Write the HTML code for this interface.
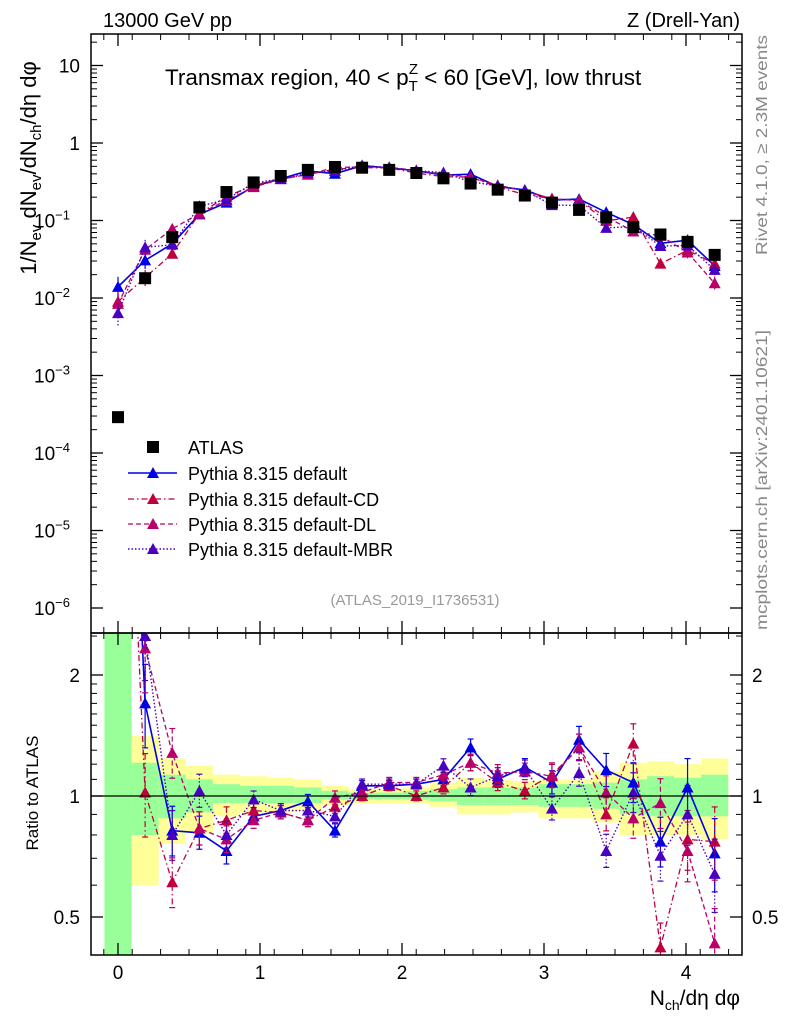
<!DOCTYPE html>
<html><head><meta charset="utf-8"><style>
body{margin:0;background:#fff}
svg{display:block;font-family:"Liberation Sans",sans-serif}
</style></head><body>
<svg id="chart" width="786" height="1024" viewBox="0 0 786 1024">
<g id="bands"></g>
<g id="marks"></g>
<g id="axes"></g>
<text x="103" y="27" font-size="20">13000 GeV pp</text>
<text x="740" y="27" font-size="20" text-anchor="end">Z (Drell-Yan)</text>
<text x="165" y="85" font-size="22.5">Transmax region, 40 &lt; p<tspan font-size="15" dy="6">T</tspan><tspan font-size="15" dx="-9" dy="-17">Z</tspan><tspan dy="11"> &lt; 60 [GeV], low thrust</tspan></text>
<text x="415" y="605" font-size="15" fill="#999" text-anchor="middle">(ATLAS_2019_I1736531)</text>
<text transform="translate(767,255) rotate(-90)" font-size="16" fill="#888" textLength="220" lengthAdjust="spacingAndGlyphs">Rivet 4.1.0, ≥ 2.3M events</text>
<text transform="translate(767,630) rotate(-90)" font-size="16" fill="#888" textLength="300" lengthAdjust="spacingAndGlyphs">mcplots.cern.ch [arXiv:2401.10621]</text>
<text transform="translate(36,168) rotate(-90)" font-size="22" text-anchor="middle">1/N<tspan font-size="15" dy="5">ev</tspan><tspan dy="-5"> dN</tspan><tspan font-size="15" dy="5">ev</tspan><tspan dy="-5">/dN</tspan><tspan font-size="15" dy="5">ch</tspan><tspan dy="-5">/dη dφ</tspan></text>
<text transform="translate(38,793) rotate(-90)" font-size="17" text-anchor="middle">Ratio to ATLAS</text>
<text x="740" y="1005" font-size="21" text-anchor="end">N<tspan font-size="14" dy="5">ch</tspan><tspan dy="-5">/dη dφ</tspan></text>
<g id="legend"></g>
</svg>
<script>
const xs=[0,0.191,0.382,0.573,0.764,0.955,1.146,1.337,1.528,1.719,1.91,2.101,2.292,2.483,2.674,2.865,3.056,3.247,3.438,3.629,3.82,4.011,4.202];
const atlas=[0.00029,0.018,0.061,0.148,0.233,0.31,0.375,0.45,0.49,0.48,0.45,0.41,0.35,0.30,0.25,0.21,0.17,0.137,0.11,0.082,0.066,0.053,0.036];
const ratioDefault=[48,1.70,0.82,0.81,0.73,0.89,0.92,0.97,0.82,1.06,1.06,1.07,1.10,1.32,1.10,1.18,1.08,1.38,1.16,1.08,0.77,1.05,0.72];
const ratioCD=[31,1.02,0.61,0.83,0.87,0.92,0.91,0.87,0.94,1.0,1.06,1.0,1.05,1.21,1.08,1.03,1.13,1.32,0.90,1.35,0.42,0.78,0.77];
const ratioDL=[29,2.33,1.28,0.83,0.78,0.87,0.91,0.87,0.99,1.02,1.08,1.08,1.13,1.21,1.14,1.15,1.12,1.32,1.02,0.88,0.96,0.73,0.43];
const ratioMBR=[22,2.5,0.80,1.03,0.80,0.98,0.92,0.92,0.89,1.07,1.07,1.07,1.19,1.05,1.12,1.17,0.93,1.14,0.73,1.02,0.71,0.90,0.64];
const errFrac=[0.35,0.25,0.15,0.1,0.08,0.05,0.04,0.04,0.04,0.03,0.03,0.03,0.04,0.05,0.05,0.05,0.07,0.08,0.1,0.12,0.15,0.18,0.22];
const bandYellowUp=[3,1.41,1.24,1.19,1.13,1.12,1.11,1.10,1.06,1.04,1.04,1.05,1.08,1.11,1.10,1.09,1.10,1.10,1.15,1.21,1.22,1.20,1.24];
const bandYellowDn=[0.3,0.60,0.76,0.81,0.89,0.91,0.91,0.92,0.95,0.96,0.96,0.96,0.94,0.90,0.90,0.91,0.88,0.88,0.86,0.80,0.80,0.80,0.78];
const bandGreenUp=[3,1.21,1.13,1.10,1.07,1.06,1.06,1.05,1.03,1.02,1.02,1.03,1.04,1.05,1.05,1.05,1.07,1.07,1.08,1.10,1.12,1.11,1.13];
const bandGreenDn=[0.3,0.80,0.88,0.91,0.96,0.96,0.96,0.96,0.98,0.98,0.98,0.98,0.97,0.95,0.95,0.95,0.94,0.94,0.93,0.90,0.89,0.89,0.89];
const mainTicks=[10,1,0.1,0.01,0.001,0.0001,0.00001,0.000001];
const mainTickLabels=["10","1","10","10","10","10","10","10"];
const mainTickExp=["","","−1","−2","−3","−4","−5","−6"];
const ratioTicks=[2,1,0.5];
const xTicks=[0,1,2,3,4];

const NS="http://www.w3.org/2000/svg";
const L=91,R=742,T=34,MB=633,B=955;
const X=v=>118+v*142;
const Y=v=>143-77.5*Math.log10(v);
const RY=r=>796-121*Math.log2(r);
function el(tag,at,parent){const e=document.createElementNS(NS,tag);for(const k in at)e.setAttribute(k,at[k]);parent.appendChild(e);return e;}
const bands=document.getElementById('bands'),marks=document.getElementById('marks'),axes=document.getElementById('axes'),leg=document.getElementById('legend');
const clipR=el('clipPath',{id:'cr'},document.getElementById('chart'));el('rect',{x:L,y:MB,width:R-L,height:B-MB},clipR);
const clipM=el('clipPath',{id:'cm'},document.getElementById('chart'));el('rect',{x:L,y:T,width:R-L,height:MB-T},clipM);
bands.setAttribute('clip-path','url(#cr)');
xs.forEach((x,i)=>{
  const x0=X(x-0.0955),x1=X(x+0.0955);
  let r=el('rect',{x:x0,y:RY(bandYellowUp[i]),width:x1-x0,height:RY(bandYellowDn[i])-RY(bandYellowUp[i]),fill:'#ffff99'},bands);
  
  
  r=el('rect',{x:x0,y:RY(bandGreenUp[i]),width:x1-x0,height:RY(bandGreenDn[i])-RY(bandGreenUp[i]),fill:'#99ff99'},bands);
  
  
});
el('line',{x1:L,x2:R,y1:796,y2:796,stroke:'#000','stroke-width':1.2},axes);
const series=[
 {name:'default',ratio:ratioDefault,color:'#0000e6',dash:'',w:1.6},
 {name:'default-CD',ratio:ratioCD,color:'#c0003c',dash:'6,3,1.5,3',w:1.3},
 {name:'default-DL',ratio:ratioDL,color:'#b8006a',dash:'5,3',w:1.3},
 {name:'default-MBR',ratio:ratioMBR,color:'#4a00c0',dash:'1.5,2',w:1.4}
];
function tri(g,x,y,c){const p=el('polygon',{points:`${x-6},${y+5} ${x+6},${y+5} ${x},${y-6}`,fill:c},g);return p;}
series.forEach(s=>{
  const gm=el('g',{'clip-path':'url(#cm)'},marks);
  
  
  const gr=el('g',{'clip-path':'url(#cr)'},marks);
  
  
  const vals=xs.map((x,i)=>atlas[i]*s.ratio[i]);
  el('polyline',{points:xs.map((x,i)=>X(x)+','+Y(vals[i])).join(' '),fill:'none',stroke:s.color,'stroke-width':s.w,'stroke-dasharray':s.dash},gm);
  el('polyline',{points:xs.map((x,i)=>X(x)+','+RY(s.ratio[i])).join(' '),fill:'none',stroke:s.color,'stroke-width':s.w,'stroke-dasharray':s.dash},gr);
  xs.forEach((x,i)=>{
    const e=errFrac[i];
    const px=X(x);
    el('line',{x1:px,x2:px,y1:Y(vals[i]*(1+e)),y2:Y(vals[i]*(1-e*0.9)),stroke:s.color,'stroke-width':1.2,'stroke-dasharray':s.dash},gm);
    const t=tri(gm,px,Y(vals[i]),s.color);
    
    
    const ry=s.ratio[i];
    el('line',{x1:px,x2:px,y1:RY(ry*(1+e)),y2:RY(ry*(1-e*0.9)),stroke:s.color,'stroke-width':1.2,'stroke-dasharray':s.dash},gr);
    el('line',{x1:px-3,x2:px+3,y1:RY(ry*(1+e)),y2:RY(ry*(1+e)),stroke:s.color,'stroke-width':1.2},gr);
    el('line',{x1:px-3,x2:px+3,y1:RY(ry*(1-e*0.9)),y2:RY(ry*(1-e*0.9)),stroke:s.color,'stroke-width':1.2},gr);
    const t2=tri(gr,px,RY(ry),s.color);
    
    
  });
});
xs.forEach((x,i)=>{
  const r=el('rect',{x:X(x)-6,y:Y(atlas[i])-6,width:12,height:12,fill:'#000'},marks);
  
  
});
el('rect',{x:L,y:T,width:R-L,height:MB-T,fill:'none',stroke:'#000','stroke-width':1.5},axes);
el('rect',{x:L,y:MB,width:R-L,height:B-MB,fill:'none',stroke:'#000','stroke-width':1.5},axes);
for(let v=-0.1;v<=4.35;v+=0.2){const px=X(Math.round(v*10)/10);
 [[T,1],[MB,-1],[MB,1],[B,-1]].forEach(([y,d])=>el('line',{x1:px,x2:px,y1:y,y2:y+d*6,stroke:'#000'},axes));}
xTicks.forEach(v=>{const px=X(v);
 [[T,1],[MB,-1],[MB,1],[B,-1]].forEach(([y,d])=>el('line',{x1:px,x2:px,y1:y,y2:y+d*12,stroke:'#000','stroke-width':1.3},axes));
 const t=el('text',{x:px,y:979,'font-size':19,'text-anchor':'middle'},axes);t.textContent=v;
 
 
});
mainTicks.forEach((v,i)=>{const py=Y(v);
 el('line',{x1:L,x2:L+12,y1:py,y2:py,stroke:'#000','stroke-width':1.3},axes);
 el('line',{x1:R,x2:R-12,y1:py,y2:py,stroke:'#000','stroke-width':1.3},axes);
 for(let k=2;k<=9;k++){const my=Y(v*k);if(my<T)continue;
  el('line',{x1:L,x2:L+6,y1:my,y2:my,stroke:'#000'},axes);el('line',{x1:R,x2:R-6,y1:my,y2:my,stroke:'#000'},axes);}
 const t=el('text',{x:mainTickExp[i]?70:80,y:py+7,'font-size':19,'text-anchor':'end'},axes);
 
 
 t.textContent=mainTickLabels[i];
 if(mainTickExp[i]){const s=el('tspan',{'font-size':13,dy:-8},t);s.textContent=mainTickExp[i];}
});
[0.4,0.5,0.6,0.7,0.8,0.9,1,1.1,1.2,1.3,1.4,1.5,1.6,1.7,1.8,1.9,2,2.5].forEach(v=>{const py=RY(v);if(py<MB||py>B)return;
 el('line',{x1:L,x2:L+6,y1:py,y2:py,stroke:'#000'},axes);el('line',{x1:R,x2:R-6,y1:py,y2:py,stroke:'#000'},axes);});
ratioTicks.forEach(v=>{const py=RY(v);
 el('line',{x1:L,x2:L+12,y1:py,y2:py,stroke:'#000','stroke-width':1.3},axes);el('line',{x1:R,x2:R-12,y1:py,y2:py,stroke:'#000','stroke-width':1.3},axes);
 let t=el('text',{x:80,y:py+7,'font-size':19,'text-anchor':'end'},axes);t.textContent=v;
 
 
 t=el('text',{x:752,y:py+7,'font-size':19},axes);t.textContent=v;
 
 
});
const ly=[447,473,499,524,549];
const lr=el('rect',{x:147,y:ly[0]-6,width:12,height:12,fill:'#000'},leg);


let lt=el('text',{x:188,y:ly[0]+7,'font-size':18},leg);lt.textContent='ATLAS';


series.forEach((s,i)=>{const y=ly[i+1];
 el('line',{x1:128,x2:177,y1:y,y2:y,stroke:s.color,'stroke-width':s.w,'stroke-dasharray':s.dash},leg);
 tri(leg,153,y,s.color);
 const t=el('text',{x:188,y:y+7,'font-size':18},leg);t.textContent='Pythia 8.315 '+s.name;
 
 
});
</script>
</body></html>
